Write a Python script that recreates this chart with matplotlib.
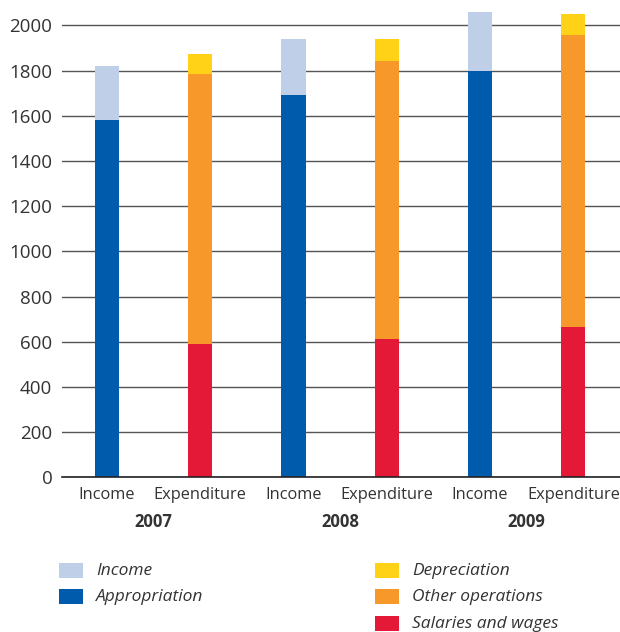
import matplotlib
matplotlib.use("Agg")
import matplotlib.pyplot as plt
from matplotlib.patches import Rectangle

plt.rcParams['font.family'] = ['Open Sans', 'DejaVu Sans']

years = ["2007", "2008", "2009"]
bar_labels = ["Income", "Expenditure"]

appropriation = [1580, 1690, 1800]
income_other = [240, 250, 260]          # light blue, on top of appropriation
salaries = [590, 612, 665]
other_operations = [1195, 1228, 1290]
depreciation = [90, 100, 95]

legend_labels = ["Income", "Appropriation", "Depreciation", "Other operations", "Salaries and wages"]

c_income = "#BFCFE7"
c_approp = "#005BAC"
c_dep = "#FFD117"
c_other = "#F7982A"
c_sal = "#E31937"
text_col = "#333333"

W, H = 620, 632
fig = plt.figure(figsize=(W / 100, H / 100), dpi=100)
ax = fig.add_axes([62 / W, (H - 477.3) / H, (W - 62) / W, 474.6 / H])

width = 0.26
inc_x = [2 * i for i in range(len(years))]
exp_x = [2 * i + 1 for i in range(len(years))]

ax.set_ylim(0, 2100)
ax.set_xlim(-0.48, 5.5)
ax.set_yticks(range(0, 2001, 200))
ax.yaxis.grid(True, color="#555555", lw=1.0)
ax.set_axisbelow(True)

ax.bar(inc_x, appropriation, width, color=c_approp, zorder=3)
ax.bar(inc_x, income_other, width, bottom=appropriation, color=c_income, zorder=3)
ax.bar(exp_x, salaries, width, color=c_sal, zorder=3)
ax.bar(exp_x, other_operations, width, bottom=salaries, color=c_other, zorder=3)
bot2 = [s + o for s, o in zip(salaries, other_operations)]
ax.bar(exp_x, depreciation, width, bottom=bot2, color=c_dep, zorder=3)

for s in ["left", "right", "top"]:
    ax.spines[s].set_visible(False)
ax.spines["bottom"].set_color("#222222")
ax.spines["bottom"].set_linewidth(1.2)
ax.spines["bottom"].set_zorder(4)

ticks = []
labels = []
for i in range(len(years)):
    ticks += [inc_x[i], exp_x[i]]
    labels += bar_labels
ax.set_xticks(ticks)
ax.set_xticklabels(labels, fontsize=11.8, color=text_col)
ax.tick_params(axis="x", length=0, pad=7)
ax.tick_params(axis="y", length=0, pad=7, labelsize=13.5, labelcolor=text_col)

for i, y in enumerate(years):
    ax.text(inc_x[i] + 0.5, -0.095, y, transform=ax.get_xaxis_transform(),
            ha="center", va="center", fontsize=12, fontweight="bold", color=text_col)

# legend
colors = [c_income, c_approp, c_dep, c_other, c_sal]
positions = [(59, 563), (59, 589), (375, 563), (375, 589), (375, 616)]
for lab, col, (px, py) in zip(legend_labels, colors, positions):
    fig.add_artist(Rectangle((px / W, 1 - (py + 15) / H), 24 / W, 15 / H,
                             transform=fig.transFigure, color=col, lw=0))
    fig.text((px + 37) / W, 1 - (py + 8) / H, lab, ha="left", va="center",
             fontsize=12.5, fontstyle="italic", color=text_col)

fig.savefig("out.png", dpi=100)
